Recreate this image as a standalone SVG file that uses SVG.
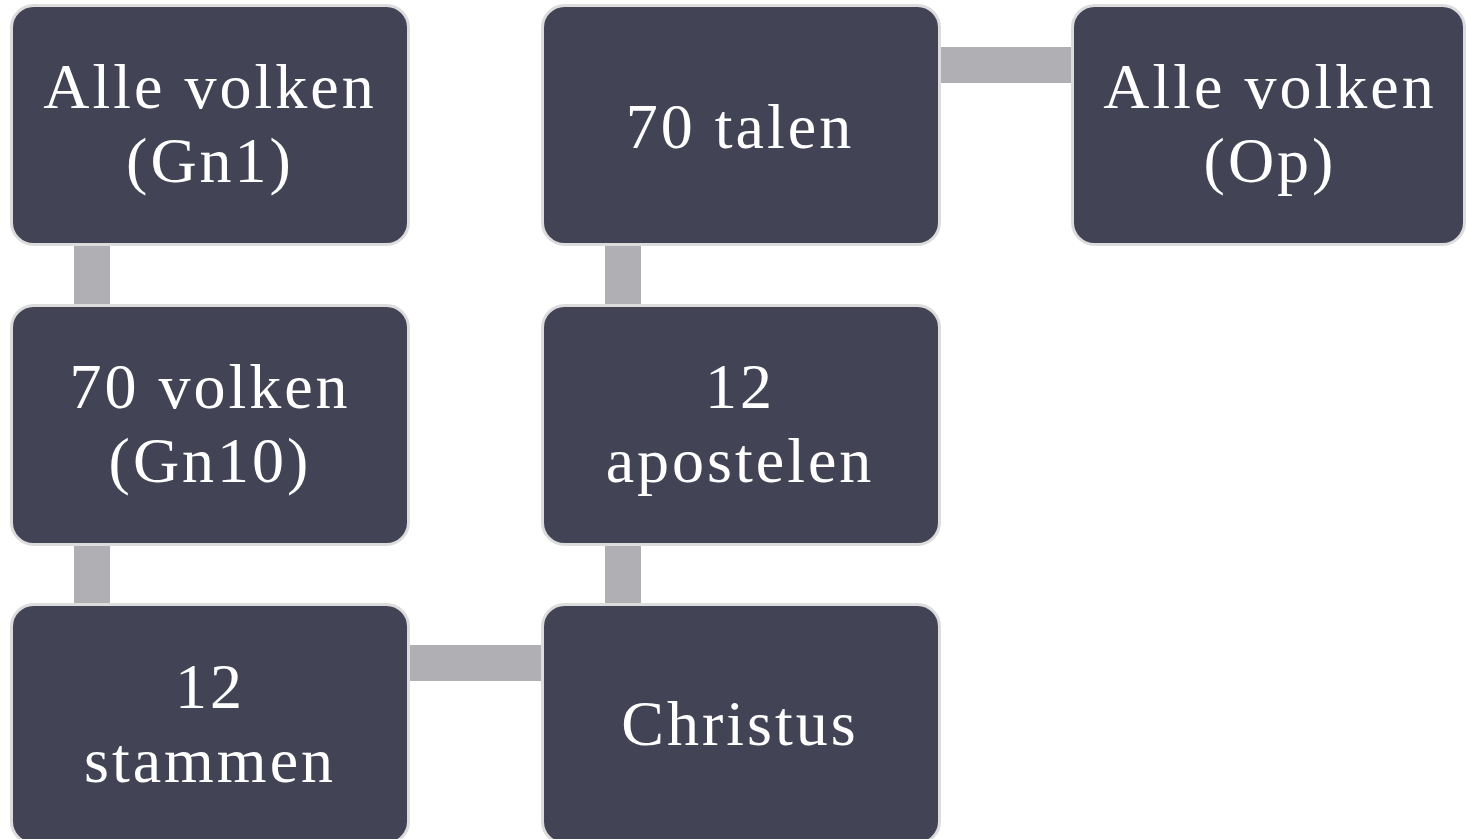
<svg xmlns="http://www.w3.org/2000/svg" width="1466" height="839" viewBox="0 0 1466 839">
<style>
.box{fill:#434356;stroke:#dcdcdc;stroke-width:3}
.lbl{fill:#ffffff;font-family:"Liberation Serif","DejaVu Serif",serif;font-size:64px;letter-spacing:3px;text-anchor:middle}
.con{fill:#b0afb4}
</style>
<rect width="1466" height="839" fill="#ffffff"/>
<g id="connectors">
<rect class="con" x="74" y="245" width="36" height="61"/>
<rect class="con" x="74" y="544" width="36" height="61"/>
<rect class="con" x="409" y="645" width="133" height="36"/>
<rect class="con" x="605" y="544" width="36" height="61"/>
<rect class="con" x="605" y="245" width="36" height="61"/>
<rect class="con" x="939" y="47" width="133" height="36"/>
</g>
<g id="n1"><rect class="box" x="11.5" y="5.5" width="397" height="239" rx="22"/>
<text class="lbl" x="210" y="108">Alle volken</text><text class="lbl" x="210" y="182">(Gn1)</text></g>
<g id="n2"><rect class="box" x="11.5" y="305.5" width="397" height="239" rx="22"/>
<text class="lbl" x="210" y="408">70 volken</text><text class="lbl" x="210" y="482">(Gn10)</text></g>
<g id="n3"><rect class="box" x="11.5" y="604.5" width="397" height="239" rx="22"/>
<text class="lbl" x="210" y="708">12</text><text class="lbl" x="210" y="782">stammen</text></g>
<g id="n4"><rect class="box" x="542.5" y="604.5" width="397" height="239" rx="22"/>
<text class="lbl" x="740" y="745">Christus</text></g>
<g id="n5"><rect class="box" x="542.5" y="305.5" width="397" height="239" rx="22"/>
<text class="lbl" x="740" y="408">12</text><text class="lbl" x="740" y="482">apostelen</text></g>
<g id="n6"><rect class="box" x="542.5" y="5.5" width="397" height="239" rx="22"/>
<text class="lbl" x="740" y="148">70 talen</text></g>
<g id="n7"><rect class="box" x="1072.5" y="5.5" width="392" height="239" rx="22"/>
<text class="lbl" x="1270" y="108">Alle volken</text><text class="lbl" x="1270" y="182">(Op)</text></g>
</svg>
